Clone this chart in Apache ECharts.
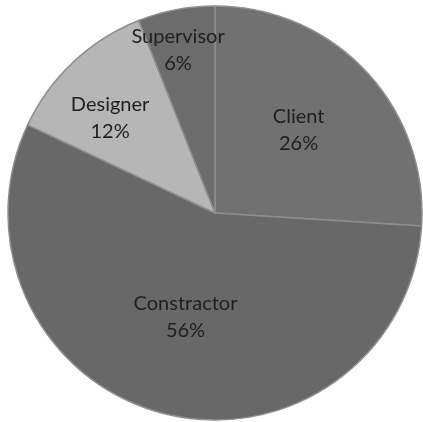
<!DOCTYPE html>
<html>
<head>
<meta charset="utf-8">
<script src="https://cdn.jsdelivr.net/npm/echarts@6/dist/echarts.min.js"></script>
<style>
html,body{margin:0;padding:0;background:#fff;}
#chart{width:423px;height:422px;}
</style>
</head>
<body>
<div id="chart"></div>
<script>
const categories = ['Client', 'Constractor', 'Designer', 'Supervisor'];
const values = [26, 56, 12, 6];

const sliceColors = ['#717171', '#686868', '#b6b6b6', '#6c6c6c'];
const labelOffsets = [[6, -10], [-3, 1], [-32, -17], [-17, -58]];

const chart = echarts.init(document.getElementById('chart'), null, {renderer: 'canvas'});
chart.setOption({
  animation: false,
  backgroundColor: '#ffffff',
  series: [{
    type: 'pie',
    center: [215, 213],
    radius: [0, 207],
    startAngle: 90,
    clockwise: true,
    avoidLabelOverlap: false,
    itemStyle: {borderColor: '#8e8e8e', borderWidth: 1.5},
    label: {
      show: true,
      position: 'inside',
      formatter: p => p.name + '\n' + p.value + '%',
      fontFamily: 'Lato',
      fontSize: 20,
      lineHeight: 27,
      color: '#1e1e1e'
    },
    labelLine: {show: false},
    data: categories.map((c, i) => ({
      name: c,
      value: values[i],
      itemStyle: {color: sliceColors[i]},
      label: {offset: labelOffsets[i]}
    }))
  }]
});
</script>
</body>
</html>
